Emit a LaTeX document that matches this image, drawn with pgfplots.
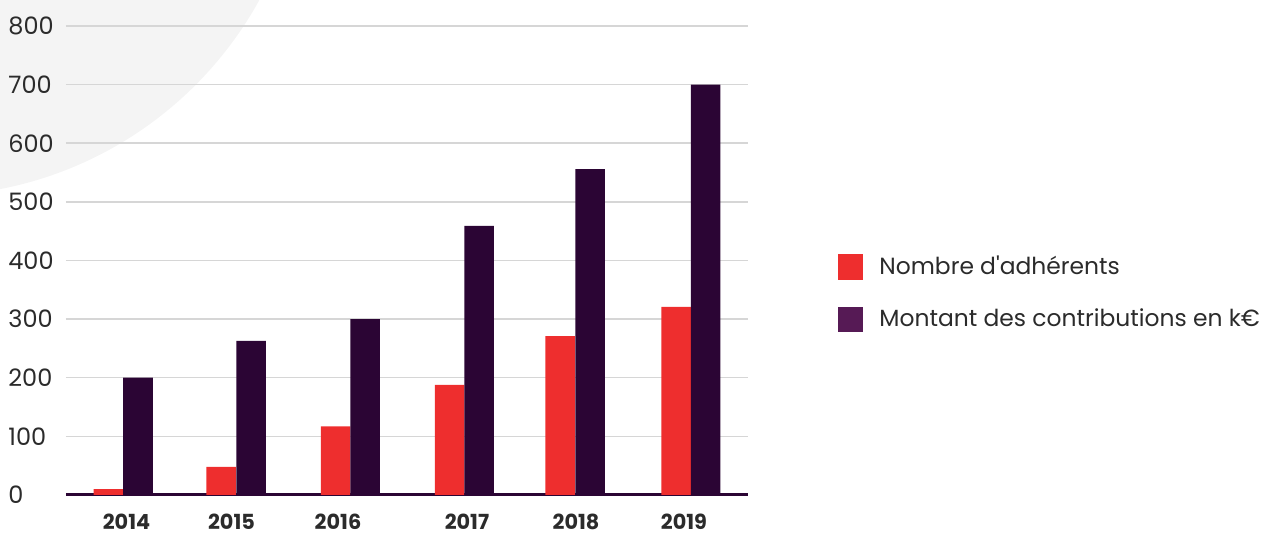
\documentclass[border=0pt]{standalone}
\usepackage{fontspec}
\setmainfont{Poppins}
\usepackage{pgfplots}
\pgfplotsset{compat=1.18}
\definecolor{barred}{HTML}{EE2E2E}
\definecolor{barpurple}{HTML}{2B0534}
\definecolor{legpurple}{HTML}{561A55}
\definecolor{gridgray}{HTML}{D6D6D6}
\definecolor{bggray}{HTML}{F4F4F4}
\definecolor{txt}{HTML}{2B2B2B}
\begin{document}
\begin{tikzpicture}
\useasboundingbox (0,0) rectangle (634pt,267pt);
\begin{scope}
\clip (0,0) rectangle (634pt,267pt);
\fill[bggray] (-36pt,358pt) circle (189pt);
\end{scope}
\begin{axis}[
  at={(33pt,19.5pt)}, anchor=south west,
  scale only axis, width=341pt, height=234.5pt,
  xmin=66, xmax=748, ymin=0, ymax=800,
  axis x line*=bottom, axis y line*=left,
  x axis line style={draw=barpurple, line width=1.5pt},
  y axis line style={draw=none},
  major tick length=0pt,
  ytick={0,100,...,800},
  ymajorgrids, grid style={gridgray, line width=0.75pt},
  xtick={126.5,231.5,338,467,576,684},
  xticklabels={\textbf{2014},\textbf{2015},\textbf{2016},\textbf{2017},\textbf{2018},\textbf{2019}},
  xticklabel style={font=\fontsize{10.4}{12}\selectfont, text=txt, anchor=north, inner sep=0pt, yshift=-9.5pt},
  yticklabel style={font=\fontsize{12}{14}\selectfont, text=txt, anchor=west, inner sep=0pt, xshift=-29pt},
  /pgf/number format/assume math mode=true,
  legend style={draw=none, fill=none, inner sep=0pt, at={(1.132,0.4307)}, anchor=west,
    nodes={inner sep=0pt, font=\fontsize{11.7}{13}\selectfont, text=txt},
    row sep=13.5pt, column sep=8pt},
  legend cell align=left,
]
\addplot[ybar, bar width=29.5, fill=barred, draw=none,
  legend image code/.code={\fill[barred] (0pt,-6.25pt) rectangle (12.5pt,6.25pt);}]
  coordinates {(108.5,10) (221,48) (335.5,117) (449.5,188) (560,271) (676,321)};
\addlegendentry{Nombre d\textquotesingle adhérents}
\addplot[ybar, bar width=29.5, fill=barpurple, draw=none,
  legend image code/.code={\fill[legpurple] (0pt,-6.25pt) rectangle (12.5pt,6.25pt);}]
  coordinates {(138,200) (251,263) (365,300) (479,459) (590,556) (705.5,700)};
\addlegendentry{Montant des contributions en k€}
\end{axis}
\end{tikzpicture}
\end{document}
